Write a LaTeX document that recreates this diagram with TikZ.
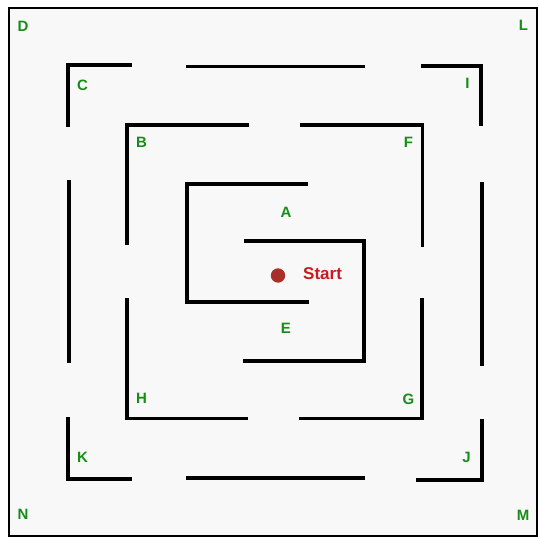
\documentclass[tikz,border=0pt]{standalone}
\usepackage{fontspec}
\setmainfont{Liberation Sans}
\definecolor{lblgreen}{RGB}{24,140,24}
\definecolor{startred}{RGB}{200,28,28}
\definecolor{dotred}{RGB}{168,48,40}
\definecolor{floor}{RGB}{248,248,248}
\tikzset{
  wall/.style={line width=3.4pt, line cap=rect, line join=miter, black},
  lbl/.style={text=lblgreen, font=\fontsize{15}{15}\selectfont\bfseries, inner sep=0pt},
}
\begin{document}
\begin{tikzpicture}[x=1pt,y=-1pt]
\useasboundingbox (0,0) rectangle (539,538);
\fill[white] (0,0) rectangle (539,538);
\draw[fill=floor, line width=2.6pt] (9,8) rectangle (537,536);
% outer ring pieces
\draw[wall] (130,65) -- (68,65) -- (68,125);
\draw[wall] (188,66.5) -- (363,66.5);
\draw[wall] (423,66) -- (481,66) -- (481,124);
\draw[wall] (69,182) -- (69,361);
\draw[wall] (482,184) -- (482,364);
\draw[wall] (68,419) -- (68,479) -- (130,479);
\draw[wall] (188,478) -- (363,478);
\draw[wall] (418,480) -- (482,480) -- (482,421);
% middle ring
\draw[wall] (247,125) -- (127,125) -- (127,243);
\draw[wall] (302,125) -- (422.5,125) -- (422.5,245);
\draw[wall] (127,300) -- (127,418.5) -- (246,418.5);
\draw[wall] (301,418.5) -- (422,418.5) -- (422,300);
% inner ring
\draw[wall] (306,184) -- (187,184) -- (187,302) -- (307,302);
\draw[wall] (246,241) -- (364,241) -- (364,361) -- (245,361);
% start
\fill[dotred] (278,275.5) circle (7.2);
\node[text=startred, font=\fontsize{17}{17}\selectfont\bfseries, inner sep=0pt, anchor=west] (start) at (303,274) {Start};
% labels
\node[lbl] (D) at (23,26.5) {D};
\node[lbl] (L) at (523.5,25) {L};
\node[lbl] (C) at (82.5,85) {C};
\node[lbl] (I) at (467.5,83) {I};
\node[lbl] (B) at (141.5,142) {B};
\node[lbl] (F) at (408.5,142) {F};
\node[lbl] (A) at (286,212.5) {A};
\node[lbl] (E) at (286,328.5) {E};
\node[lbl] (H) at (141.5,398.5) {H};
\node[lbl] (G) at (408.5,399.5) {G};
\node[lbl] (K) at (82.5,457.5) {K};
\node[lbl] (J) at (466.5,457.5) {J};
\node[lbl] (N) at (23,514.5) {N};
\node[lbl] (M) at (523,515) {M};
\end{tikzpicture}
\end{document}
